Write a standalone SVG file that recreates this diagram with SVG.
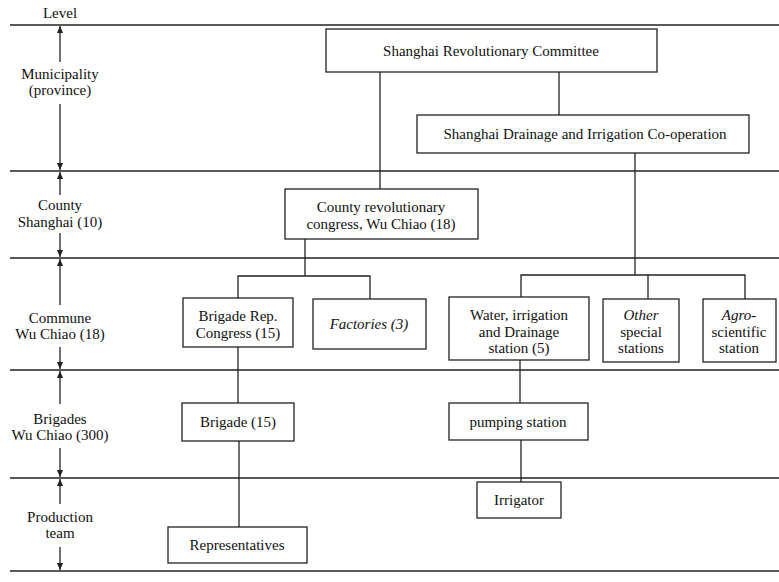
<svg xmlns="http://www.w3.org/2000/svg" width="779" height="582" viewBox="0 0 779 582">
<style>
.bg{fill:#fff}
.box{fill:#fff;stroke:#222;stroke-width:1.3}
.ln{stroke:#222;stroke-width:1.3;fill:none}
.t{font-family:"Liberation Serif","Times New Roman",serif;font-size:15px;fill:#111;text-anchor:middle}
.i{font-style:italic}
</style>
<defs>
<marker id="ah" viewBox="0 0 8 8" refX="8" refY="4" markerWidth="7" markerHeight="7" markerUnits="userSpaceOnUse" orient="auto">
<path d="M0,0.5 L8,4 L0,7.5 Z" fill="#222"/>
</marker>
</defs>
<rect class="bg" x="0" y="0" width="779" height="582"/>
<g id="levels">
<line class="ln" x1="10" y1="25" x2="779" y2="25"/>
<line class="ln" x1="10" y1="171" x2="779" y2="171"/>
<line class="ln" x1="10" y1="258" x2="779" y2="258"/>
<line class="ln" x1="10" y1="370" x2="779" y2="370"/>
<line class="ln" x1="10" y1="478" x2="779" y2="478"/>
<line class="ln" x1="10" y1="571" x2="779" y2="571"/>
<text class="t" x="60" y="18">Level</text>
<line class="ln" x1="60" y1="62" x2="60" y2="26" marker-end="url(#ah)"/>
<line class="ln" x1="60" y1="104" x2="60" y2="170" marker-end="url(#ah)"/>
<text class="t" x="60" y="79">Municipality</text>
<text class="t" x="60" y="95">(province)</text>
<line class="ln" x1="60" y1="195" x2="60" y2="172" marker-end="url(#ah)"/>
<line class="ln" x1="60" y1="233" x2="60" y2="257" marker-end="url(#ah)"/>
<text class="t" x="60" y="210">County</text>
<text class="t" x="60" y="227">Shanghai (10)</text>
<line class="ln" x1="60" y1="305" x2="60" y2="259" marker-end="url(#ah)"/>
<line class="ln" x1="60" y1="347" x2="60" y2="369" marker-end="url(#ah)"/>
<text class="t" x="60" y="323">Commune</text>
<text class="t" x="60" y="339">Wu Chiao (18)</text>
<line class="ln" x1="60" y1="404" x2="60" y2="371" marker-end="url(#ah)"/>
<line class="ln" x1="60" y1="448" x2="60" y2="477" marker-end="url(#ah)"/>
<text class="t" x="60" y="424">Brigades</text>
<text class="t" x="60" y="440">Wu Chiao (300)</text>
<line class="ln" x1="60" y1="504" x2="60" y2="479" marker-end="url(#ah)"/>
<line class="ln" x1="60" y1="547" x2="60" y2="570" marker-end="url(#ah)"/>
<text class="t" x="60" y="522">Production</text>
<text class="t" x="60" y="538">team</text>
</g>
<g id="connectors">
<line class="ln" x1="380" y1="72" x2="380" y2="189"/>
<line class="ln" x1="559" y1="72" x2="559" y2="115"/>
<line class="ln" x1="635" y1="153" x2="635" y2="275"/>
<polyline class="ln" points="521,297 521,275 745,275 745,299"/>
<line class="ln" x1="648" y1="275" x2="648" y2="299"/>
<line class="ln" x1="305" y1="239" x2="305" y2="276"/>
<polyline class="ln" points="238,298 238,276 370,276 370,299"/>
<line class="ln" x1="238" y1="347" x2="238" y2="403"/>
<line class="ln" x1="239" y1="441" x2="239" y2="527"/>
<line class="ln" x1="520" y1="360" x2="520" y2="403"/>
<line class="ln" x1="521" y1="440" x2="521" y2="482"/>
</g>
<g id="src"><rect class="box" x="326" y="29" width="331" height="43"/><text class="t" x="491" y="56">Shanghai Revolutionary Committee</text></g>
<g id="sdic"><rect class="box" x="417" y="115" width="332" height="38"/><text class="t" x="585" y="139">Shanghai Drainage and Irrigation Co-operation</text></g>
<g id="county"><rect class="box" x="285" y="189" width="193" height="50"/><text class="t" x="381" y="212">County revolutionary</text><text class="t" x="381" y="229">congress, Wu Chiao (18)</text></g>
<g id="brc"><rect class="box" x="183" y="298" width="110" height="49"/><text class="t" x="238" y="321">Brigade Rep.</text><text class="t" x="238" y="338">Congress (15)</text></g>
<g id="factories"><rect class="box" x="313" y="299" width="113" height="50"/><text class="t i" x="369" y="329">Factories (3)</text></g>
<g id="water"><rect class="box" x="449" y="297" width="140" height="63"/><text class="t" x="519" y="320">Water, irrigation</text><text class="t" x="519" y="337">and Drainage</text><text class="t" x="519" y="353">station (5)</text></g>
<g id="other"><rect class="box" x="603" y="299" width="76" height="63"/><text class="t i" x="641" y="320">Other</text><text class="t" x="641" y="337">special</text><text class="t" x="641" y="353">stations</text></g>
<g id="agro"><rect class="box" x="703" y="299" width="73" height="63"/><text class="t i" x="739" y="320">Agro-</text><text class="t" x="739" y="337">scientific</text><text class="t" x="739" y="353">station</text></g>
<g id="brigade"><rect class="box" x="182" y="403" width="112" height="38"/><text class="t" x="238" y="427">Brigade (15)</text></g>
<g id="pumping"><rect class="box" x="449" y="403" width="139" height="37"/><text class="t" x="518" y="427">pumping station</text></g>
<g id="irrigator"><rect class="box" x="477" y="482" width="84" height="36"/><text class="t" x="519" y="505">Irrigator</text></g>
<g id="reps"><rect class="box" x="168" y="527" width="139" height="36"/><text class="t" x="237" y="550">Representatives</text></g>
</svg>
